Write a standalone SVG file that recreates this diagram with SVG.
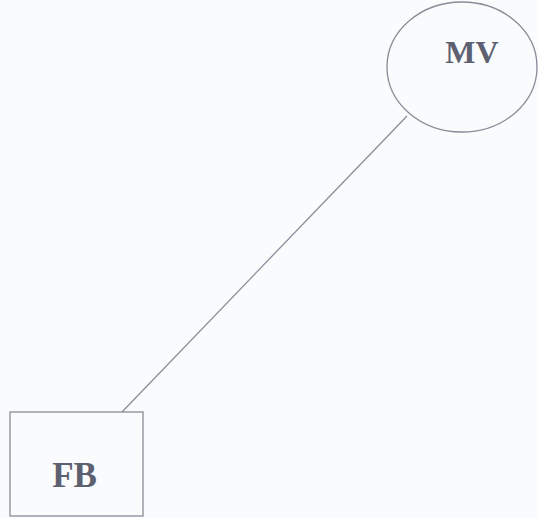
<svg xmlns="http://www.w3.org/2000/svg" width="538" height="518" viewBox="0 0 538 518">
<style>
.shape{fill:none;stroke:#8a8c98;stroke-width:1.3}
.lbl{font-family:"Liberation Serif","Times New Roman",serif;font-weight:bold;fill:#5d6070;text-anchor:middle}
</style>
<rect width="538" height="518" fill="#f9fbfd"/>
<g id="connectors">
<line class="shape" x1="407" y1="116" x2="122" y2="412"/>
</g>
<g id="MV">
<ellipse class="shape" cx="462" cy="67" rx="75" ry="65"/>
<text class="lbl" x="472" y="63" font-size="32">MV</text>
</g>
<g id="FB">
<rect class="shape" x="10" y="412" width="133" height="104"/>
<text class="lbl" x="74.5" y="487" font-size="35">FB</text>
</g>
</svg>
